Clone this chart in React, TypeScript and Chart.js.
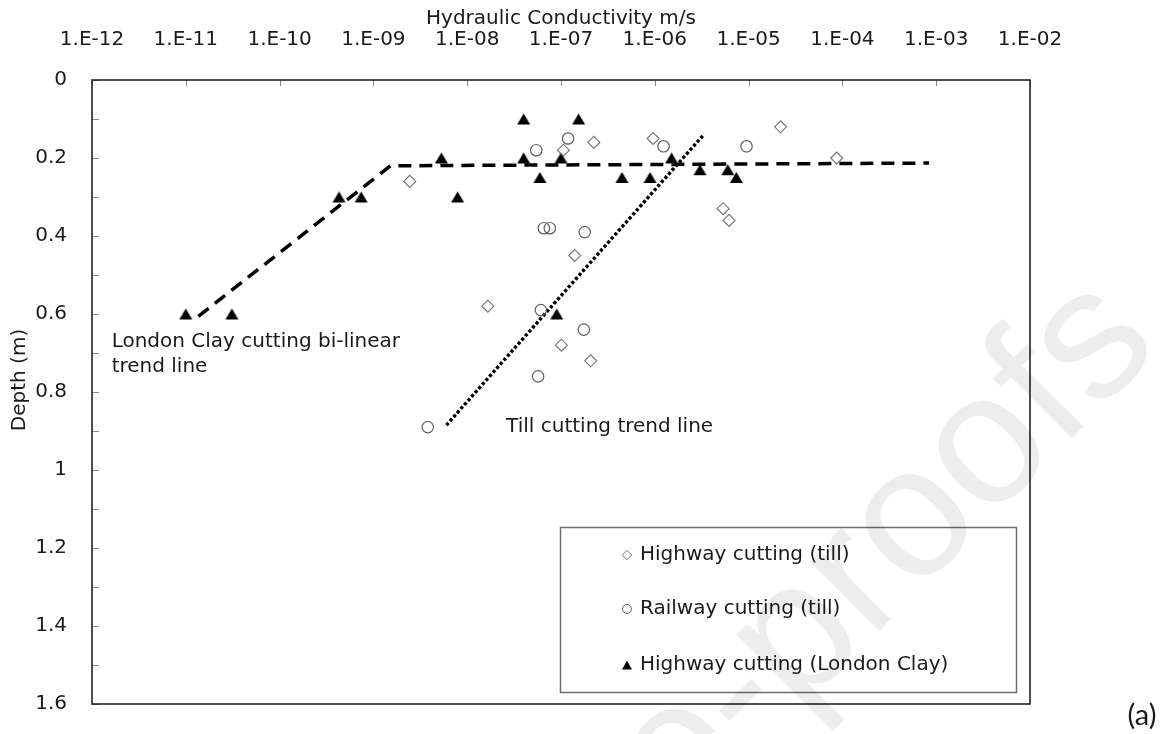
import React, { useEffect, useRef } from "react";
import { Chart, registerables } from "chart.js";

Chart.register(...registerables);

const W = 1163;
const H = 734;
const FONT = "'DejaVu Sans', Verdana, sans-serif";

// ---- axis ticks ----
const xTickExponents = [-12, -11, -10, -9, -8, -7, -6, -5, -4, -3, -2];
const yLabelTicks = [0, 0.2, 0.4, 0.6, 0.8, 1.0, 1.2, 1.4, 1.6];
const yTickMarks = [0, 0.1, 0.2, 0.3, 0.4, 0.5, 0.6, 0.7, 0.8, 0.9, 1.0, 1.1, 1.2, 1.3, 1.4, 1.5, 1.6];

// ---- Highway cutting (till) ----
const highwayTillK = [2.44e-9, 1.06e-7, 2.24e-7, 9.6e-7, 2.19e-5, 8.7e-5, 5.35e-6, 6.2e-6, 1.4e-7, 1.66e-8, 1.01e-7, 2.07e-7];
const highwayTillDepth = [0.26, 0.18, 0.16, 0.15, 0.12, 0.2, 0.33, 0.36, 0.45, 0.58, 0.68, 0.72];

// ---- Railway cutting (till) ----
const railwayTillK = [5.45e-8, 1.19e-7, 1.24e-6, 9.5e-6, 6.56e-8, 7.6e-8, 1.79e-7, 6.1e-8, 1.75e-7, 5.7e-8, 3.8e-9];
const railwayTillDepth = [0.18, 0.15, 0.17, 0.17, 0.38, 0.38, 0.39, 0.59, 0.64, 0.76, 0.89];

// ---- Highway cutting (London Clay) ----
const londonClayK = [1.0e-11, 3.1e-11, 4.3e-10, 7.4e-10, 5.3e-9, 7.9e-9, 4.0e-8, 4.0e-8, 5.96e-8, 1.0e-7, 9.0e-8, 1.54e-7, 4.47e-7, 8.9e-7, 1.51e-6, 3.03e-6, 6.0e-6, 7.4e-6];
const londonClayDepth = [0.6, 0.6, 0.3, 0.3, 0.2, 0.3, 0.1, 0.2, 0.25, 0.2, 0.6, 0.1, 0.25, 0.25, 0.2, 0.23, 0.23, 0.25];

// ---- trend lines ----
const londonClayTrendK = [1.36e-11, 1.52e-9, 8.4e-4];
const londonClayTrendDepth = [0.606, 0.22, 0.213];
const tillTrendK = [6.0e-9, 3.3e-6];
const tillTrendDepth = [0.885, 0.141];

// ---- labels ----
const seriesLabels = ["Highway cutting (till)", "Railway cutting (till)", "Highway cutting (London Clay)"];
const xTitle = "Hydraulic Conductivity m/s";
const yTitle = "Depth (m)";
const londonClayNoteLines = ["London Clay cutting bi-linear", "trend line"];
const londonClayNoteAt = { k: 1.62e-12, depth: 0.672 };
const tillNote = "Till cutting trend line";
const tillNoteAt = { k: 2.6e-8, depth: 0.89 };
const panelLabel = "(a)";
const watermark = "e-proofs";

const pts = (xs: number[], ys: number[]) => xs.map((x, i) => ({ x, y: ys[i] }));

function formatK(v: number) {
  const e = Math.round(Math.log10(v));
  const s = String(Math.abs(e)).padStart(2, "0");
  return `1.E${e < 0 ? "-" : "+"}${s}`;
}

function makeTriangle(w: number, h: number) {
  const c = document.createElement("canvas");
  c.width = w + 2;
  c.height = h + 2;
  const g = c.getContext("2d")!;
  g.fillStyle = "#000";
  g.beginPath();
  g.moveTo(1, h + 1);
  g.lineTo(w + 1, h + 1);
  g.lineTo(w / 2 + 1, 1);
  g.closePath();
  g.fill();
  return c;
}

const decorPlugin = {
  id: "decor",
  afterDraw(chart: any) {
    const { ctx, chartArea: ca, scales } = chart;
    const xs = scales.x;
    const ys = scales.y;
    ctx.save();

    // inward tick marks
    ctx.strokeStyle = "#8c8c8c";
    ctx.lineWidth = 1;
    ctx.beginPath();
    for (const e of xTickExponents) {
      const px = Math.round(xs.getPixelForValue(Math.pow(10, e))) + 0.5;
      ctx.moveTo(px, ca.top);
      ctx.lineTo(px, ca.top + 6);
    }
    for (const v of yTickMarks) {
      const py = Math.round(ys.getPixelForValue(v)) + 0.5;
      ctx.moveTo(ca.left, py);
      ctx.lineTo(ca.left + 7, py);
    }
    ctx.stroke();

    // frame
    ctx.strokeStyle = "#222";
    ctx.lineWidth = 1.6;
    ctx.strokeRect(ca.left, ca.top, ca.right - ca.left, ca.bottom - ca.top);

    // y axis title
    ctx.fillStyle = "#1a1a1a";
    ctx.font = `20px ${FONT}`;
    ctx.save();
    ctx.translate(20, 380);
    ctx.rotate(-Math.PI / 2);
    ctx.textAlign = "center";
    ctx.textBaseline = "middle";
    ctx.fillText(yTitle, 0, 0);
    ctx.restore();

    // annotations
    ctx.textAlign = "left";
    ctx.textBaseline = "middle";
    const lx = xs.getPixelForValue(londonClayNoteAt.k);
    const ly = ys.getPixelForValue(londonClayNoteAt.depth);
    londonClayNoteLines.forEach((t, i) => ctx.fillText(t, lx, ly + i * 25));
    ctx.fillText(tillNote, xs.getPixelForValue(tillNoteAt.k), ys.getPixelForValue(tillNoteAt.depth));

    // legend box
    const bx = 560.5, by = 527.5, bw = 456, bh = 165;
    ctx.fillStyle = "#fff";
    ctx.fillRect(bx, by, bw, bh);
    ctx.strokeStyle = "#6e6e6e";
    ctx.lineWidth = 1.5;
    ctx.strokeRect(bx, by, bw, bh);
    const mx = 627;
    const rows = [555, 609, 665];
    // diamond
    ctx.strokeStyle = "#6f6f6f";
    ctx.lineWidth = 1;
    ctx.beginPath();
    ctx.moveTo(mx - 4.7, rows[0]);
    ctx.lineTo(mx, rows[0] - 4.7);
    ctx.lineTo(mx + 4.7, rows[0]);
    ctx.lineTo(mx, rows[0] + 4.7);
    ctx.closePath();
    ctx.stroke();
    // circle
    ctx.strokeStyle = "#5f5f5f";
    ctx.beginPath();
    ctx.arc(mx, rows[1], 4.5, 0, Math.PI * 2);
    ctx.stroke();
    // triangle
    ctx.fillStyle = "#000";
    ctx.beginPath();
    ctx.moveTo(mx - 5, rows[2] + 4.5);
    ctx.lineTo(mx + 5, rows[2] + 4.5);
    ctx.lineTo(mx, rows[2] - 4.5);
    ctx.closePath();
    ctx.fill();
    ctx.fillStyle = "#1a1a1a";
    ctx.font = `20px ${FONT}`;
    seriesLabels.forEach((t, i) => ctx.fillText(t, 640, rows[i]));

    // panel label
    ctx.font = "29px Lato, 'Open Sans', sans-serif";
    ctx.textAlign = "center";
    ctx.fillText(panelLabel, 1142, 716);

    // faint watermark (lower right)
    ctx.translate(680, 830);
    ctx.rotate(-Math.PI / 4);
    ctx.font = "186px 'Liberation Sans', Arial, sans-serif";
    ctx.textAlign = "left";
    ctx.textBaseline = "alphabetic";
    ctx.fillStyle = "rgba(0,0,0,0.07)";
    ctx.fillText(watermark, 0, 0);

    ctx.restore();
  },
};

export default function App() {
  const ref = useRef<HTMLCanvasElement | null>(null);

  useEffect(() => {
    document.body.style.margin = "0";
    const canvas = ref.current;
    if (!canvas) return;
    const tri = makeTriangle(13, 11);
    const tickFont = { family: FONT, size: 20 };

    const chart = new Chart(canvas, {
      type: "scatter",
      data: {
        datasets: [
          {
            label: seriesLabels[0],
            data: pts(highwayTillK, highwayTillDepth),
            pointStyle: "rectRot",
            pointRadius: 6,
            borderWidth: 1.1,
            borderColor: "#737373",
            backgroundColor: "rgba(0,0,0,0)",
          },
          {
            label: seriesLabels[1],
            data: pts(railwayTillK, railwayTillDepth),
            pointStyle: "circle",
            pointRadius: 5.7,
            borderWidth: 1.2,
            borderColor: "#5f5f5f",
            backgroundColor: "rgba(0,0,0,0)",
          },
          {
            label: seriesLabels[2],
            data: pts(londonClayK, londonClayDepth),
            pointStyle: tri as any,
            pointRadius: 7,
            borderWidth: 0,
            backgroundColor: "#000",
          },
          {
            label: "London Clay trend",
            data: pts(londonClayTrendK, londonClayTrendDepth),
            showLine: true,
            pointRadius: 0,
            borderColor: "#000",
            borderWidth: 3.5,
            borderDash: [13, 8],
            borderCapStyle: "butt",
            fill: false,
          } as any,
          {
            label: "Till trend",
            data: pts(tillTrendK, tillTrendDepth),
            showLine: true,
            pointRadius: 0,
            borderColor: "#000",
            borderWidth: 3.4,
            borderDash: [3.2, 2.2],
            borderCapStyle: "butt",
            fill: false,
          } as any,
        ],
      },
      options: {
        responsive: false,
        animation: false,
        devicePixelRatio: 1,
        layout: { padding: { left: 0, right: 133, top: 0, bottom: 30 } },
        plugins: {
          legend: { display: false },
          tooltip: { enabled: false },
        },
        scales: {
          x: {
            type: "logarithmic",
            position: "top",
            min: 1e-12,
            max: 1e-2,
            afterBuildTicks: (s: any) => {
              s.ticks = xTickExponents.map((e) => ({ value: Math.pow(10, e) }));
            },
            afterFit: (s: any) => {
              s.height = 80;
            },
            grid: { display: false },
            border: { display: false },
            ticks: {
              callback: (v: any) => formatK(Number(v)),
              font: tickFont,
              color: "#1a1a1a",
              padding: 20,
              maxRotation: 0,
              autoSkip: false,
            },
            title: {
              display: true,
              text: xTitle,
              font: tickFont,
              color: "#1a1a1a",
              padding: { top: 7, bottom: 0 },
            },
          },
          y: {
            type: "linear",
            reverse: true,
            min: 0,
            max: 1.6,
            afterBuildTicks: (s: any) => {
              s.ticks = yLabelTicks.map((v) => ({ value: v }));
            },
            afterFit: (s: any) => {
              s.width = 92;
            },
            grid: { display: false },
            border: { display: false },
            ticks: {
              callback: (v: any) => String(Number(Number(v).toFixed(1))),
              font: tickFont,
              color: "#1a1a1a",
              padding: 17,
              autoSkip: false,
            },
            title: { display: false },
          },
        },
      } as any,
      plugins: [decorPlugin],
    });
    return () => chart.destroy();
  }, []);

  return (
    <div style={{ width: W, height: H, background: "#fff" }}>
      <canvas ref={ref} width={W} height={H} style={{ display: "block", width: W, height: H }} />
    </div>
  );
}
